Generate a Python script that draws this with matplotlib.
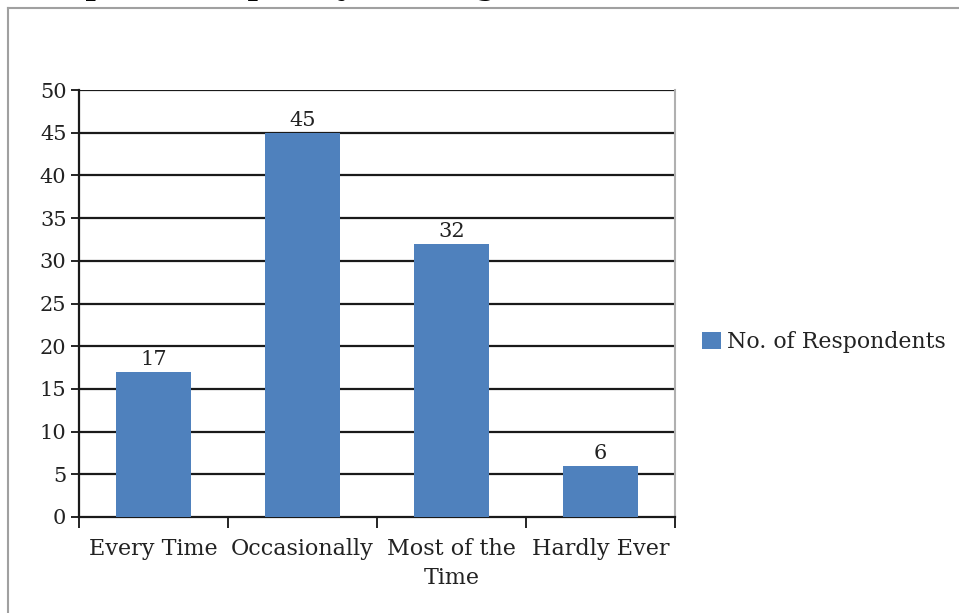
import numpy as np
import matplotlib
matplotlib.use("Agg")
import matplotlib.pyplot as plt
from matplotlib.lines import Line2D

# Survey results
categories = ["Every Time", "Occasionally", "Most of the\nTime", "Hardly Ever"]
respondents = [17, 45, 32, 6]
series_name = "No. of Respondents"
y_ticks = [0, 5, 10, 15, 20, 25, 30, 35, 40, 45, 50]

bar_color = "#4F81BD"
plt.rcParams["font.family"] = ["DejaVu Serif"]

W, H = 959, 613
fig = plt.figure(figsize=(W / 100, H / 100), dpi=100)
ax = fig.add_axes([79 / W, 1 - 517 / H, (675 - 79) / W, (517 - 90) / H])

x = np.arange(len(categories))
bars = ax.bar(x, respondents, width=0.5, color=bar_color, zorder=3,
              label=series_name)

# value labels above each bar
for xi, v in zip(x, respondents):
    ax.text(xi, v + 0.3, str(v), ha="center", va="bottom", fontsize=15,
            color="#222222", zorder=4)

ax.set_xlim(-0.5, len(categories) - 0.5)
ax.set_ylim(0, 50)
ax.set_yticks(y_ticks)
ax.tick_params(axis="y", length=6, width=1.2, labelsize=15, pad=3,
               labelcolor="#222222")

# category labels sit between the boundary tick marks
ax.set_xticks(x)
ax.set_xticklabels(categories, fontsize=16, color="#222222", linespacing=1.45)
ax.tick_params(axis="x", which="major", length=0, pad=15)
ax.set_xticks(np.arange(-0.5, len(categories)), minor=True)
ax.tick_params(axis="x", which="minor", length=8, width=1.2, direction="out")

for yv in y_ticks[1:]:
    ax.axhline(yv, color="#1a1a1a", lw=1.6, zorder=1)

for side in ("left", "bottom"):
    ax.spines[side].set_color("#1a1a1a")
    ax.spines[side].set_linewidth(1.6)
ax.spines["top"].set_visible(False)
ax.spines["right"].set_color("#b0b0b0")
ax.spines["right"].set_linewidth(1.5)

leg = fig.legend(handles=[bars], labels=[series_name], loc="center left",
                 bbox_to_anchor=(702 / W, 1 - 342 / H), frameon=False,
                 fontsize=15.8, handlelength=0.85, handleheight=0.85,
                 handletextpad=0.3, borderpad=0, borderaxespad=0)
for t in leg.get_texts():
    t.set_color("#222222")

# outer chart frame
fig.add_artist(Line2D([8 / W, 1], [1 - 8 / H, 1 - 8 / H],
                      transform=fig.transFigure, color="#a0a0a0", lw=1.5))
fig.add_artist(Line2D([8 / W, 8 / W], [0, 1 - 8 / H],
                      transform=fig.transFigure, color="#a0a0a0", lw=1.5))

# heading runs above the top edge
fig.text(26 / W, 1 + 5 / H, "Response frequency of using", fontsize=21,
         fontweight="bold", ha="left", va="baseline", color="black")

fig.savefig("out.png", dpi=100)
